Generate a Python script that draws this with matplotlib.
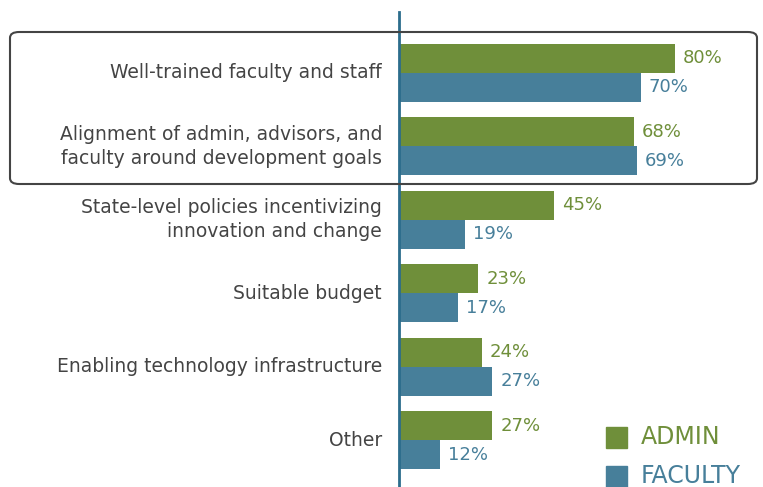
import numpy as np
import matplotlib
matplotlib.use("Agg")
import matplotlib.pyplot as plt
from matplotlib.patches import FancyBboxPatch, Rectangle

categories = ["Well-trained faculty and staff",
              "Alignment of admin, advisors, and\nfaculty around development goals",
              "State-level policies incentivizing\ninnovation and change",
              "Suitable budget",
              "Enabling technology infrastructure",
              "Other"]
admin = [80, 68, 45, 23, 24, 27]
faculty = [70, 69, 19, 17, 27, 12]

green = "#6f8f3a"
blue = "#477f9a"
text_gray = "#444444"
plt.rcParams['font.family'] = ['DejaVu Sans']

W, H = 763, 487
fig = plt.figure(figsize=(W / 100, H / 100), dpi=100)
ax = fig.add_axes([399 / W, 0, (W - 399) / W, (H - 12) / H])

y = np.arange(len(categories))
h = 0.395
ax.barh(y - h / 2, admin, height=h, color=green)
ax.barh(y + h / 2, faculty, height=h, color=blue)
ax.set_xlim(0, (W - 399) / 3.45)
ax.set_ylim(5.64, -0.83)

for i in range(len(categories)):
    ax.annotate(f"{admin[i]}%", (admin[i], y[i] - h / 2), xytext=(8, 0),
                textcoords="offset pixels", va="center", ha="left",
                color=green, fontsize=13)
    ax.annotate(f"{faculty[i]}%", (faculty[i], y[i] + h / 2), xytext=(8, 0),
                textcoords="offset pixels", va="center", ha="left",
                color=blue, fontsize=13)
    ax.annotate(categories[i], (0, y[i]), xytext=(-17, 0),
                textcoords="offset pixels", va="center", ha="right",
                color=text_gray, fontsize=13.5, linespacing=1.35,
                annotation_clip=False)

for s in ["top", "right", "bottom"]:
    ax.spines[s].set_visible(False)
ax.spines["left"].set_color("#2c6d8c")
ax.spines["left"].set_linewidth(2)
ax.set_xticks([])
ax.set_yticks([])

# rounded highlight box around the first two items
box = FancyBboxPatch((10 / W, (H - 184) / H), (757 - 10) / W, (184 - 32) / H,
                     boxstyle="round,pad=0,rounding_size=0.012",
                     transform=fig.transFigure, fill=False,
                     edgecolor="#444444", linewidth=1.5, zorder=5)
fig.patches.append(box)

# legend
for (lab, col, yc) in [("ADMIN", green, 437), ("FACULTY", blue, 476)]:
    fig.patches.append(Rectangle((606 / W, (H - yc - 10.5) / H), 21 / W, 21 / H,
                                 transform=fig.transFigure, color=col))
    fig.text(641 / W, (H - yc) / H, lab, color=col, fontsize=17,
             va="center", ha="left")

fig.savefig("out.png", dpi=100)
